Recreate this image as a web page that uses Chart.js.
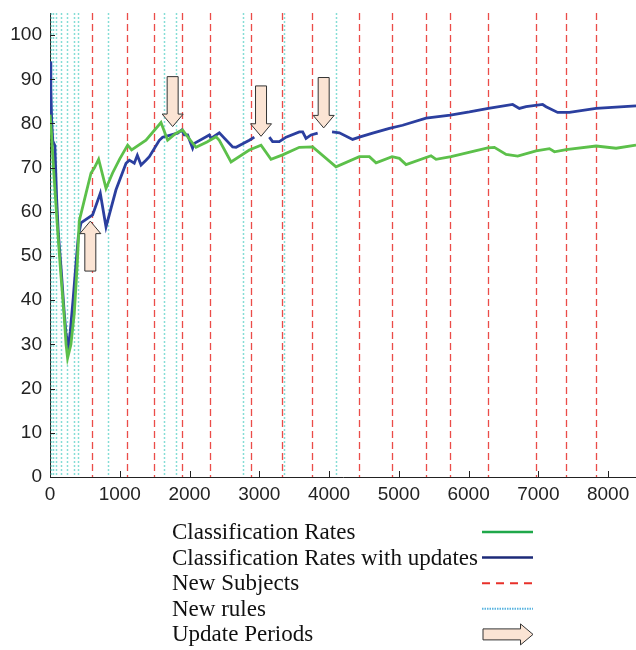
<!DOCTYPE html>
<html>
<head>
<meta charset="utf-8">
<script src="https://cdn.jsdelivr.net/npm/chart.js@4.4.1/dist/chart.umd.min.js"></script>
<style>
  html, body { margin: 0; padding: 0; background: #fff; }
  canvas { display: block; }
</style>
</head>
<body>
<canvas id="myChart" width="636" height="650"></canvas>
<script>
// Classification rates (green) and with updates (blue)
const greenX = [0, 20, 50, 100, 150, 200, 230, 252, 300, 348, 390, 420, 516, 588, 635, 697, 803, 897, 1000, 1113, 1170, 1376, 1591, 1686, 1806, 1901, 1973, 2093, 2250, 2380, 2427, 2595, 2857, 3025, 3168, 3335, 3574, 3765, 4100, 4434, 4578, 4674, 4903, 5008, 5104, 5462, 5534, 5749, 6274, 6370, 6538, 6704, 6968, 7159, 7231, 7398, 7828, 8115, 8400];
const greenY = [82, 78, 70, 58, 47, 37, 30, 26.9, 30, 37, 48, 58, 64.2, 68.8, 69.9, 71.9, 65.3, 68.8, 72, 75.1, 74, 76.2, 80.2, 76.2, 77.8, 78.5, 77, 74.6, 75.8, 77, 76.2, 71.3, 74, 75.1, 71.9, 72.9, 74.6, 74.7, 70.2, 72.5, 72.5, 71.1, 72.5, 72.1, 70.7, 72.7, 71.9, 72.5, 74.5, 74.6, 73, 72.6, 73.8, 74.3, 73.6, 74.1, 74.9, 74.4, 75.1];

const blueX = [0, 12, 25, 40, 70, 95, 120, 160, 205, 229, 262, 291, 334, 373, 406, 444, 611, 721, 803, 946, 1090, 1137, 1208, 1252, 1305, 1376, 1424, 1567, 1614, 1829, 1887, 1925, 1973, 2044, 2069, 2284, 2308, 2427, 2618, 2667, 2857, 2929, 3040, 3144, 3191, 3287, 3384, 3574, 3622, 3670, 3742, 3837, 3940, 4043, 4148, 4338, 4434, 4625, 4865, 5055, 5391, 5739, 6012, 6284, 6632, 6728, 6824, 7062, 7111, 7277, 7445, 7828, 8400];
const blueY = [94, 88, 80, 76, 75, 63, 55, 47, 37, 32.6, 29.2, 33, 40.7, 48.4, 54.4, 57.5, 59.3, 64.2, 56.6, 65, 71, 71.7, 71, 72.8, 70.6, 71.7, 72.5, 76.2, 76.9, 77.8, 78.5, 77.4, 77.4, 74.4, 75.5, 77.4, 76.6, 77.9, 74.7, 74.6, 76.2, 76.9, null, 76.9, 75.9, 75.9, 76.9, 78.1, 78.1, 76.6, 77.4, 77.8, null, 78.1, 77.9, 76.4, 76.9, 77.8, 78.9, 79.6, 81.2, 81.9, 82.6, 83.4, 84.3, 83.4, 83.8, 84.3, 83.8, 82.5, 82.5, 83.4, 84.0];

// vertical markers
const newSubjects = [600, 1100, 1495, 1890, 2300, 2875, 3325, 3750, 4435, 4905, 5390, 5740, 6285, 6960, 7390, 7820];
const newRules = [10, 40, 85, 160, 240, 350, 395, 835, 1640, 1805, 2760, 3360, 4100];

// update period arrows: x position, tip value, tail value
const updateX = [578, 1758, 3025, 3923];
const updateTip = [57.9, 79.3, 77.1, 79.0];
const updateTail = [46.6, 90.6, 88.5, 90.4];

const xTicks = [0, 1000, 2000, 3000, 4000, 5000, 6000, 7000, 8000];
const yTicks = [0, 10, 20, 30, 40, 50, 60, 70, 80, 90, 100];

const legendLabels = ["Classification Rates", "Classification Rates with updates", "New Subjects", "New rules", "Update Periods"];

const GREEN = "#5cc04a";
const BLUE = "#2b3f9f";
const RED = "rgba(232,45,40,0.85)";
const CYAN = "#86ddd6";
const ARROW_FILL = "#fbe4d4";

function toPoints(xs, ys) {
  return xs.map((x, i) => ({x: x, y: ys[i]}));
}

function drawArrow(ctx, x, yTip, yTail, dir) {
  // sizes in px
  const sw = 5.5, hw = 10.5, hl = 12.5;
  ctx.beginPath();
  if (dir === 'right') {
    const y = yTip, x0 = x, x1 = yTail;
    ctx.moveTo(x0, y - sw);
    ctx.lineTo(x1 - hl, y - sw);
    ctx.lineTo(x1 - hl, y - hw);
    ctx.lineTo(x1, y);
    ctx.lineTo(x1 - hl, y + hw);
    ctx.lineTo(x1 - hl, y + sw);
    ctx.lineTo(x0, y + sw);
  } else {
    const s = dir === 'down' ? 1 : -1;
    ctx.moveTo(x - sw, yTail);
    ctx.lineTo(x - sw, yTip - s * hl);
    ctx.lineTo(x - hw, yTip - s * hl);
    ctx.lineTo(x, yTip);
    ctx.lineTo(x + hw, yTip - s * hl);
    ctx.lineTo(x + sw, yTip - s * hl);
    ctx.lineTo(x + sw, yTail);
  }
  ctx.closePath();
  ctx.fillStyle = ARROW_FILL;
  ctx.fill();
  ctx.lineWidth = 1;
  ctx.strokeStyle = "#333";
  ctx.stroke();
}

const markersPlugin = {
  id: 'markers',
  beforeDatasetsDraw(chart) {
    const {ctx, chartArea: a, scales: {x}} = chart;
    ctx.save();
    ctx.beginPath();
    ctx.rect(a.left, a.top, a.right - a.left, a.bottom - a.top);
    ctx.clip();
    ctx.lineWidth = 1.5;
    ctx.strokeStyle = CYAN;
    ctx.setLineDash([2, 2]);
    newRules.forEach(v => {
      const px = Math.round(x.getPixelForValue(v)) + 0.5;
      ctx.beginPath(); ctx.moveTo(px, a.top); ctx.lineTo(px, a.bottom); ctx.stroke();
    });
    ctx.lineWidth = 1.3;
    ctx.strokeStyle = RED;
    ctx.setLineDash([7, 4]);
    newSubjects.forEach(v => {
      const px = Math.round(x.getPixelForValue(v)) + 0.5;
      ctx.beginPath(); ctx.moveTo(px, a.top); ctx.lineTo(px, a.bottom); ctx.stroke();
    });
    ctx.restore();
  },
  afterDraw(chart) {
    const {ctx, chartArea: a, scales: {x, y}} = chart;
    ctx.save();
    // inward tick marks
    ctx.strokeStyle = "#222";
    ctx.lineWidth = 1;
    xTicks.forEach(v => {
      if (v === 0) return;
      const px = Math.round(x.getPixelForValue(v)) + 0.5;
      ctx.beginPath(); ctx.moveTo(px, a.bottom); ctx.lineTo(px, a.bottom - 6); ctx.stroke();
    });
    yTicks.forEach(v => {
      const py = Math.round(y.getPixelForValue(v)) + 0.5;
      ctx.beginPath(); ctx.moveTo(a.left, py); ctx.lineTo(a.left + 5, py); ctx.stroke();
    });
    // update arrows
    updateX.forEach((v, i) => {
      const px = x.getPixelForValue(v);
      const tip = y.getPixelForValue(updateTip[i]);
      const tail = y.getPixelForValue(updateTail[i]);
      drawArrow(ctx, px, tip, tail, tip > tail ? 'down' : 'up');
    });
    // legend
    const lx = 172, sx0 = 482, sx1 = 533, ly0 = 533, dy = 25.6;
    ctx.font = '23px "Liberation Serif", "Times New Roman", serif';
    ctx.fillStyle = "#111";
    ctx.textBaseline = 'middle';
    ctx.textAlign = 'left';
    legendLabels.forEach((t, i) => ctx.fillText(t, lx, ly0 + i * dy));
    const sy = i => ly0 + i * dy - 1;
    ctx.setLineDash([]);
    ctx.lineWidth = 2.5;
    ctx.strokeStyle = "#1fa84a";
    ctx.beginPath(); ctx.moveTo(sx0, sy(0)); ctx.lineTo(sx1, sy(0)); ctx.stroke();
    ctx.strokeStyle = "#1c2a78";
    ctx.beginPath(); ctx.moveTo(sx0, sy(1)); ctx.lineTo(sx1, sy(1)); ctx.stroke();
    ctx.lineWidth = 2;
    ctx.strokeStyle = "#e8302a";
    ctx.setLineDash([8, 6]);
    ctx.beginPath(); ctx.moveTo(sx0, sy(2)); ctx.lineTo(sx1, sy(2)); ctx.stroke();
    ctx.strokeStyle = "#5ab4e0";
    ctx.setLineDash([1.5, 1]);
    ctx.beginPath(); ctx.moveTo(sx0, sy(3)); ctx.lineTo(sx1, sy(3)); ctx.stroke();
    ctx.setLineDash([]);
    drawArrow(ctx, sx0 + 1, sy(4), sx1, 'right');
    ctx.restore();
  }
};

const tickFont = {family: '"Liberation Sans", Arial, sans-serif', size: 19, lineHeight: 1};

new Chart("myChart", {
  type: "line",
  data: {
    datasets: [{
      label: legendLabels[0],
      data: toPoints(greenX, greenY),
      borderColor: GREEN,
      borderWidth: 2.8,
      pointRadius: 0,
      tension: 0
    }, {
      label: legendLabels[1],
      data: toPoints(blueX, blueY),
      borderColor: BLUE,
      borderWidth: 2.8,
      pointRadius: 0,
      tension: 0,
      spanGaps: false
    }]
  },
  options: {
    responsive: false,
    animation: false,
    layout: {padding: {top: 13, right: 0, left: 0, bottom: 0}},
    plugins: {legend: {display: false}, tooltip: {enabled: false}},
    scales: {
      x: {
        type: "linear",
        min: 0,
        max: 8400,
        afterBuildTicks: s => { s.ticks = xTicks.map(v => ({value: v})); },
        afterFit: s => { s.height = 173; s.paddingLeft = 0; s.paddingRight = 0; },
        grid: {display: false},
        border: {display: true, color: "#222", width: 1},
        ticks: {padding: 0, color: "#222", maxRotation: 0, font: tickFont,
                callback: v => String(v)}
      },
      y: {
        min: 0,
        max: 105,
        afterBuildTicks: s => { s.ticks = yTicks.map(v => ({value: v})); },
        afterFit: s => { s.width = 50; s.paddingTop = 0; s.paddingBottom = 0; },
        grid: {display: false},
        border: {display: true, color: "#222", width: 1},
        ticks: {padding: 0, color: "#222", font: tickFont, callback: v => String(v)}
      }
    }
  },
  plugins: [markersPlugin]
});
</script>
</body>
</html>
